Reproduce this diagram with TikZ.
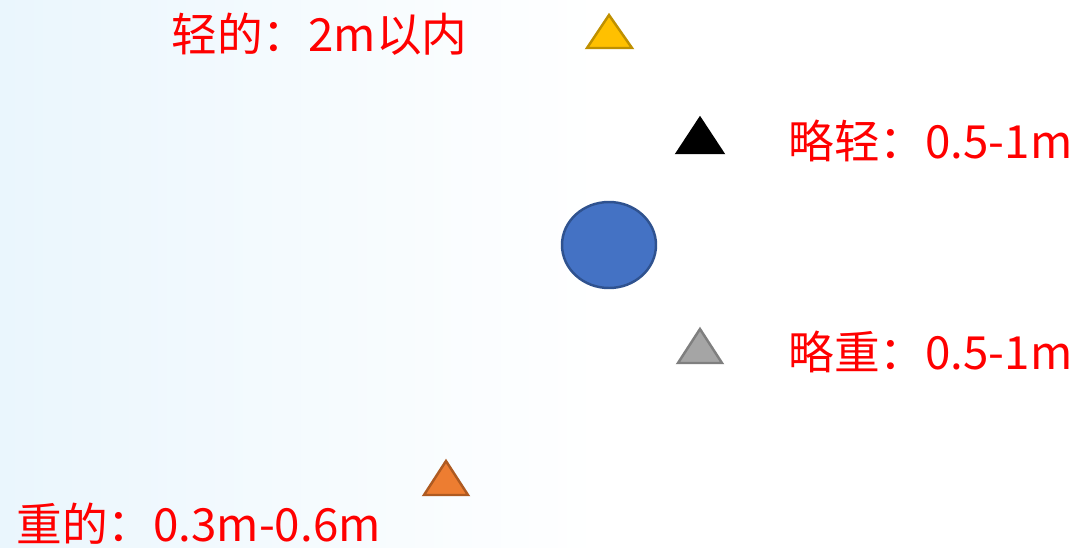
\documentclass[tikz,border=0pt]{standalone}
\usepackage{fontspec}
\newfontfamily\cjk{Noto Sans CJK SC}
\usetikzlibrary{positioning}

\definecolor{bgblue}{RGB}{234,246,253}
\definecolor{txtred}{RGB}{255,0,0}
\definecolor{goldfill}{RGB}{255,192,0}
\definecolor{golddraw}{RGB}{191,144,0}
\definecolor{greyfill}{RGB}{165,165,165}
\definecolor{greydraw}{RGB}{127,127,127}
\definecolor{orangefill}{RGB}{237,125,49}
\definecolor{orangedraw}{RGB}{174,90,33}
\definecolor{ballfill}{RGB}{68,114,196}
\definecolor{balldraw}{RGB}{47,82,143}

\tikzset{
    label/.style={anchor=west, inner sep=0pt, text=txtred,
        font=\cjk\fontsize{26}{30}\selectfont},
    marker/.style={line width=1.4pt, line join=miter}
}

\begin{document}
\begin{tikzpicture}[x=0.02cm, y=-0.02cm]

% Background
\useasboundingbox (0,0) rectangle (1086,548);
\fill[white] (0,0) rectangle (1086,548);
\shade[left color=bgblue, right color=white] (0,0) rectangle (600,548);

% Ball
\draw[line width=1.4pt, draw=balldraw, fill=ballfill] (609,245) ellipse (47 and 43);

% Triangles
\draw[marker, draw=golddraw, fill=goldfill] (609,15) -- (632,48) -- (587,48) -- cycle;
\draw[marker, draw=black, fill=black] (700,118) -- (723,153) -- (677,153) -- cycle;
\draw[marker, draw=greydraw, fill=greyfill] (700,329) -- (722,363) -- (678,363) -- cycle;
\draw[marker, draw=orangedraw, fill=orangefill] (446,461) -- (468,495) -- (424,495) -- cycle;

% Labels
\node[label] (light) at (171,34) {轻的：2m以内};
\node[label] (lightish) at (788,141) {略轻：0.5-1m};
\node[label] (heavyish) at (788,352) {略重：0.5-1m};
\node[label] (heavy) at (16,524) {重的：0.3m-0.6m};

\end{tikzpicture}
\end{document}
